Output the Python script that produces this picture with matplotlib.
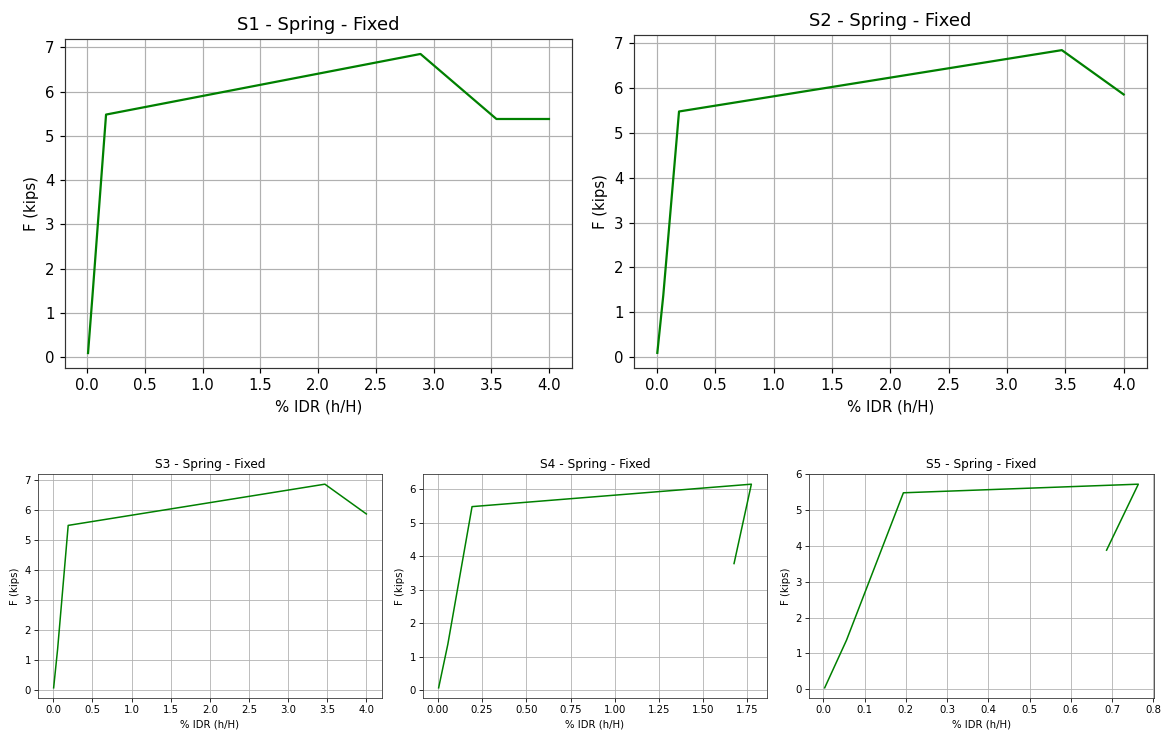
import matplotlib
matplotlib.use('Agg')
import matplotlib.pyplot as plt

# spring backbone curves, % IDR vs F (kips)
s1_idr = [0.007, 0.045, 0.163, 2.887, 3.545, 4.0]
s1_f = [0.09, 1.37, 5.48, 6.85, 5.38, 5.38]

s2_idr = [0.004, 0.055, 0.19, 3.47, 4.0]
s2_f = [0.09, 1.37, 5.48, 6.85, 5.86]

s3_idr = [0.004, 0.055, 0.19, 3.47, 4.0]
s3_f = [0.08, 1.37, 5.48, 6.85, 5.86]

s4_idr = [0.004, 0.056, 0.193, 1.773, 1.675]
s4_f = [0.07, 1.37, 5.48, 6.15, 3.78]

s5_idr = [0.003, 0.056, 0.194, 0.764, 0.687]
s5_f = [0.04, 1.37, 5.48, 5.72, 3.88]

titles = ['S1 - Spring - Fixed', 'S2 - Spring - Fixed', 'S3 - Spring - Fixed',
          'S4 - Spring - Fixed', 'S5 - Spring - Fixed']
xs = [s1_idr, s2_idr, s3_idr, s4_idr, s5_idr]
ys = [s1_f, s2_f, s3_f, s4_f, s5_f]

W, H = 1165, 731
# axes boxes in pixels: left, top, right, bottom
boxes = [(65, 39, 572, 368), (634, 35, 1147, 368),
         (38, 474, 382, 698), (423, 474, 767, 698), (809, 474, 1154, 698)]
scales = [1.07, 1.07, 0.73, 0.73, 0.73]

fig = plt.figure(figsize=(W / 100, H / 100), dpi=100)

for i in range(5):
    l, t, r, b = boxes[i]
    s = scales[i]
    ax = fig.add_axes([l / W, 1 - b / H, (r - l) / W, (b - t) / H])
    ax.plot(xs[i], ys[i], color='green', linewidth=1.5 * s)
    ax.grid(True, color='#b0b0b0', linewidth=0.8 * s)
    ax.set_axisbelow(True)
    ax.set_title(titles[i], fontsize=12 * s, pad=6 * s)
    ax.set_xlabel('% IDR (h/H)', fontsize=10 * s, labelpad=4 * s)
    ax.set_ylabel('F (kips)', fontsize=10 * s, labelpad=4 * s)
    ax.tick_params(labelsize=10 * s, length=3.5 * s, width=0.8 * s, pad=3.5 * s)
    for sp in ax.spines.values():
        sp.set_linewidth(0.8 * s)
        sp.set_color('#333333')

fig.savefig('out.png', dpi=100)
